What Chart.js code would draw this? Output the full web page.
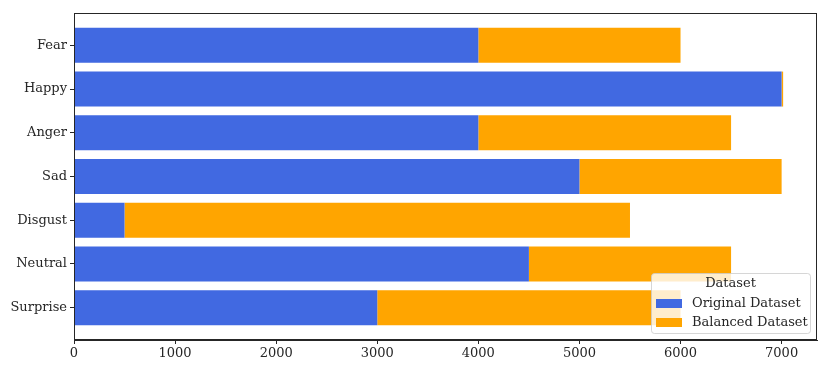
<!DOCTYPE html>
<html>
<head>
<meta charset="utf-8">
<script src="https://cdn.jsdelivr.net/npm/chart.js@4/dist/chart.umd.min.js"></script>
<style>
  html, body { margin: 0; padding: 0; background: #fff; }
  #chart { display: block; }
</style>
</head>
<body>
<canvas id="chart" width="830" height="372"></canvas>
<script>
// ─── Data ───
const emotions      = ['Fear', 'Happy', 'Anger', 'Sad', 'Disgust', 'Neutral', 'Surprise'];
const originalCount = [4000, 7000, 4000, 5000, 500, 4500, 3000];
// extra samples added on top of the original to reach the balanced size
const balancedExtra = [2000, 15, 2500, 2000, 5000, 2000, 3000];
const xTicks        = [0, 1000, 2000, 3000, 4000, 5000, 6000, 7000];

const FONT = "'DejaVu Serif', serif";
const INK  = '#262626';

// ─── Legend drawn inside the plot (lower right) ───
const innerLegend = {
  id: 'innerLegend',
  afterDraw(chart) {
    const ctx = chart.ctx;
    const area = chart.chartArea;
    // frame on all four sides
    ctx.save();
    ctx.strokeStyle = INK;
    ctx.lineWidth = 1;
    ctx.strokeRect(area.left + 0.5, area.top + 0.5, area.right - area.left - 1, area.bottom - area.top - 1);

    const w = 159, h = 60;
    const x = area.right - 7 - w, y = area.bottom - 7 - h;
    ctx.fillStyle = 'rgba(255,255,255,0.8)';
    ctx.strokeStyle = 'rgba(204,204,204,0.8)';
    ctx.beginPath();
    ctx.roundRect(x + 0.5, y + 0.5, w, h, 3);
    ctx.fill();
    ctx.stroke();

    ctx.font = '13px ' + FONT;
    ctx.fillStyle = INK;
    ctx.textBaseline = 'middle';
    ctx.textAlign = 'center';
    ctx.fillText('Dataset', x + w / 2, y + 11);
    ctx.textAlign = 'left';
    chart.data.datasets.forEach((ds, i) => {
      const ry = y + 30 + i * 19;
      ctx.fillStyle = ds.backgroundColor;
      ctx.fillRect(x + 5, ry - 4, 26, 9);
      ctx.fillStyle = INK;
      ctx.fillText(ds.label, x + 41, ry + 1);
    });
    ctx.restore();
  }
};

new Chart(document.getElementById('chart'), {
  type: 'bar',
  data: {
    datasets: [
      {
        label: 'Original Dataset',
        data: originalCount.map((v, i) => ({ x: v, y: i })),
        backgroundColor: '#4169E1',
        barPercentage: 1,
        categoryPercentage: 0.8
      },
      {
        label: 'Balanced Dataset',
        data: balancedExtra.map((v, i) => ({ x: v, y: i })),
        backgroundColor: '#FFA500',
        barPercentage: 1,
        categoryPercentage: 0.8
      }
    ]
  },
  options: {
    indexAxis: 'y',
    responsive: false,
    animation: false,
    layout: { padding: { top: 13, right: 13, left: 0, bottom: 0 } },
    plugins: {
      legend: { display: false },
      tooltip: { enabled: false }
    },
    scales: {
      x: {
        type: 'linear',
        stacked: true,
        min: 0,
        max: 7350,
        afterBuildTicks: s => { s.ticks = xTicks.map(v => ({ value: v })); },
        afterFit: s => { s.height = 32; },
        grid: { drawOnChartArea: false, drawTicks: true, tickLength: 4, color: INK },
        border: { display: true, color: INK },
        ticks: { color: INK, font: { family: FONT, size: 13 }, padding: 2, maxRotation: 0, callback: v => String(v) }
      },
      y: {
        type: 'linear',
        stacked: true,
        reverse: true,
        offset: false,
        min: -0.74,
        max: 6.74,
        afterBuildTicks: s => { s.ticks = emotions.map((c, i) => ({ value: i })); },
        afterFit: s => { s.width = 74; },
        grid: { drawOnChartArea: false, drawTicks: true, tickLength: 4, color: INK, offset: false },
        border: { display: true, color: INK },
        ticks: {
          color: INK,
          font: { family: FONT, size: 13 },
          padding: 3,
          callback: v => emotions[v]
        }
      }
    }
  },
  plugins: [innerLegend]
});
</script>
</body>
</html>
